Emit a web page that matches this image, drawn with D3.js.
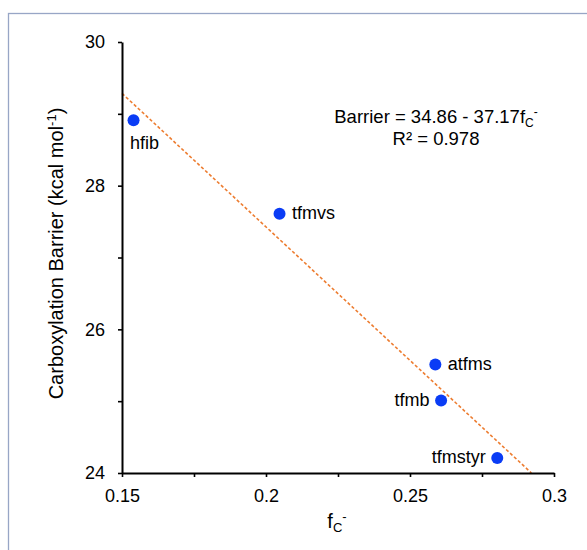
<!DOCTYPE html>
<html>
<head>
<meta charset="utf-8">
<script src="https://cdn.jsdelivr.net/npm/d3@7"></script>
<style>
  html, body { margin: 0; padding: 0; background: #fff; }
  svg { display: block; font-family: "Liberation Sans", Arial, sans-serif; }
</style>
</head>
<body>
<svg id="chart" width="587" height="550"></svg>
<script>
// ---- data ----
const names   = ["hfib", "tfmvs", "atfms", "tfmb", "tfmstyr"];
const fcValues = [0.154, 0.2047, 0.2588, 0.2608, 0.2803];
const barriers = [28.91, 27.61, 25.51, 25.01, 24.21];
const labelSide = ["below", "right", "right", "left", "left"];
const xTicks = [0.15, 0.175, 0.2, 0.225, 0.25, 0.275, 0.3];
const yTicks = [24, 25, 26, 27, 28, 29, 30];
const xLabelTicks = [0.15, 0.2, 0.25, 0.3];
const yLabelTicks = [24, 26, 28, 30];
const fitIntercept = 34.86;
const fitSlope = -37.17;
const r2 = 0.978;

// ---- chart ----
const svg = d3.select("#chart");
const x = d3.scaleLinear().domain([0.15, 0.3]).range([122, 554]);
const y = d3.scaleLinear().domain([24, 30]).range([473, 42]);

// outer border
svg.append("rect")
  .attr("x", 8.5).attr("y", 13.5).attr("width", 700).attr("height", 700)
  .attr("fill", "none").attr("stroke", "#98a6c6").attr("stroke-width", 1.3);

// trend line
const xEnd = (24 - fitIntercept) / fitSlope;
svg.append("line")
  .attr("x1", x(0.15)).attr("y1", y(fitIntercept + fitSlope * 0.15))
  .attr("x2", x(xEnd)).attr("y2", y(24))
  .attr("stroke", "#ed7d31").attr("stroke-width", 1.6)
  .attr("stroke-dasharray", "3.2,2.2");

// axes
const fmt = d3.format("~g");
const xAxis = d3.axisBottom(x).tickValues(xTicks).tickSize(4).tickSizeOuter(0).tickPadding(12)
  .tickFormat(d => xLabelTicks.some(v => Math.abs(v - d) < 1e-9) ? fmt(d) : "");
const yAxis = d3.axisLeft(y).tickValues(yTicks).tickSize(4).tickSizeOuter(0).tickPadding(13)
  .tickFormat(d => yLabelTicks.includes(d) ? fmt(d) : "");

const gx = svg.append("g").attr("transform", "translate(0,473)").call(xAxis);
const gy = svg.append("g").attr("transform", "translate(122,0)").call(yAxis);
[gx, gy].forEach(g => {
  g.selectAll("path.domain").attr("stroke", "#000").attr("stroke-width", 2);
  g.selectAll(".tick line").attr("stroke", "#000").attr("stroke-width", 1.6);
  g.selectAll(".tick text").attr("fill", "#000")
    .style("font-size", "18px").style("font-family", "Liberation Sans, Arial, sans-serif");
});

// points
svg.append("g").selectAll("circle")
  .data(names.map((n, i) => ({n, fc: fcValues[i], b: barriers[i], side: labelSide[i]})))
  .join("circle")
  .attr("cx", d => x(d.fc)).attr("cy", d => y(d.b)).attr("r", 6)
  .attr("fill", "#0a3cf5");

// point labels
svg.append("g").selectAll("text")
  .data(names.map((n, i) => ({n, fc: fcValues[i], b: barriers[i], side: labelSide[i]})))
  .join("text")
  .attr("x", d => d.side === "right" ? x(d.fc) + 12.5 : d.side === "left" ? x(d.fc) - 11.5 : x(d.fc) - 3.5)
  .attr("y", d => d.side === "below" ? y(d.b) + 28.5 : y(d.b) + 5.5)
  .attr("text-anchor", d => d.side === "left" ? "end" : "start")
  .style("font-size", "18px").attr("fill", "#000")
  .text(d => d.n);

// equation
const eq = svg.append("text").attr("x", 436).attr("y", 123)
  .attr("text-anchor", "middle").style("font-size", "18.5px").attr("fill", "#000");
eq.append("tspan").text(`Barrier = ${fitIntercept.toFixed(2)} - ${Math.abs(fitSlope).toFixed(2)}f`);
eq.append("tspan").attr("dy", 4).style("font-size", "12px").text("C");
eq.append("tspan").attr("dy", -11).style("font-size", "12px").text("-");

svg.append("text").attr("x", 436).attr("y", 145)
  .attr("text-anchor", "middle").style("font-size", "18.5px").attr("fill", "#000")
  .text(`R² = ${r2}`);

// x title
const xt = svg.append("text").attr("x", 337).attr("y", 528)
  .attr("text-anchor", "middle").style("font-size", "20px").attr("fill", "#000");
xt.append("tspan").text("f");
xt.append("tspan").attr("dy", 4).style("font-size", "13px").text("C");
xt.append("tspan").attr("dy", -11).style("font-size", "13px").text("-");

// y title
const yt = svg.append("text").attr("transform", "translate(63,253.5) rotate(-90)")
  .attr("text-anchor", "middle").style("font-size", "20px").attr("fill", "#000");
yt.append("tspan").text("Carboxylation Barrier (kcal mol");
yt.append("tspan").attr("dy", -7).style("font-size", "13px").text("-1");
yt.append("tspan").attr("dy", 7).text(")");
</script>
</body>
</html>
